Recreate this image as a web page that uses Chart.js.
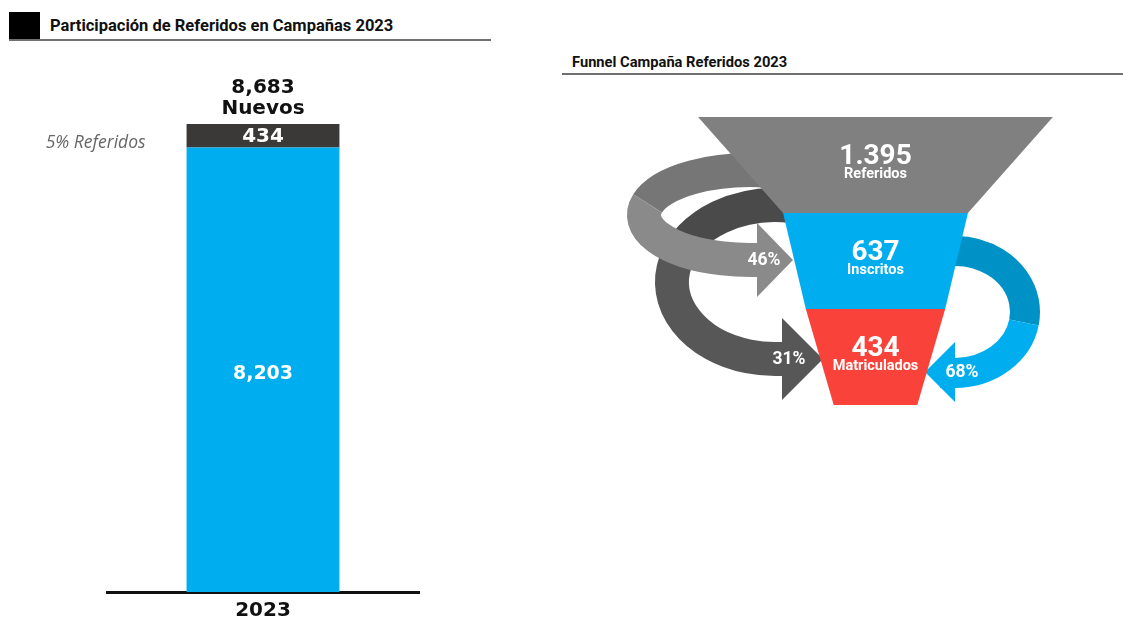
<!DOCTYPE html>
<html>
<head>
<meta charset="utf-8">
<script src="https://cdn.jsdelivr.net/npm/chart.js@4.4.1/dist/chart.umd.min.js"></script>
<style>
    body { margin: 0; background: #fff; width: 1123px; height: 617px; overflow: hidden; position: relative; font-family: Roboto, sans-serif; }
    .title { position: absolute; font-weight: 700; color: #111; white-space: nowrap; }
    #sq { position: absolute; left: 9px; top: 12px; width: 31px; height: 28px; background: #000; }
    #line1 { position: absolute; left: 9px; top: 39px; width: 482px; height: 2px; background: #707070; }
    #line2 { position: absolute; left: 562px; top: 73px; width: 561px; height: 2px; background: #707070; }
    #t1 { left: 50px; top: 16px; font-size: 16.5px; }
    #t2 { left: 572px; top: 53px; font-size: 14.7px; }
    #barChart { position: absolute; left: 0; top: 0; }
    #funnelChart { position: absolute; left: 520px; top: 0; }
</style>
</head>
<body>
<div id="sq"></div>
<div class="title" id="t1">Participación de Referidos en Campañas 2023</div>
<div id="line1"></div>
<div class="title" id="t2">Funnel Campaña Referidos 2023</div>
<div id="line2"></div>

<canvas id="barChart" width="520" height="630"></canvas>
<canvas id="funnelChart" width="603" height="617"></canvas>

<script>
// left chart data
const years = ['2023']
const nuevosSinReferidos = [8203]
const referidos = [434]
const totalNuevos = [8683]

// funnel data
const stages = ['Referidos', 'Inscritos', 'Matriculados']
const stageValues = [1395, 637, 434]

const colors = {
    blue: '#00aeef',
    blueDark: '#0091c6',
    dark: '#3b3937',
    gray: '#808080',
    red: '#f9423a',
}

const fmtComma = v => String(v).replace(/\B(?=(\d{3})+(?!\d))/g, ',')
const fmtDot = v => String(v).replace(/\B(?=(\d{3})+(?!\d))/g, '.')

// ---------- stacked bar ----------
const barLabels = {
    id: 'barLabels',
    afterDatasetsDraw(chart) {
        const ctx = chart.ctx
        const base = chart.getDatasetMeta(0).data[0]
        const top = chart.getDatasetMeta(1).data[0]
        ctx.save()
        ctx.textAlign = 'center'
        ctx.textBaseline = 'middle'

        ctx.fillStyle = '#fff'
        ctx.font = 'bold 19px "DejaVu Sans"'
        ctx.fillText(fmtComma(nuevosSinReferidos[0]), base.x, (base.y + base.base) / 2 + 4)
        ctx.font = 'bold 20px "DejaVu Sans"'
        ctx.fillText(fmtComma(referidos[0]), top.x, (top.y + top.base) / 2 + 1)

        ctx.fillStyle = '#111'
        ctx.fillText(fmtComma(totalNuevos[0]), top.x, top.y - 36)
        ctx.fillText('Nuevos', top.x, top.y - 15)

        // share of referidos
        const share = Math.round(referidos[0] / totalNuevos[0] * 100)
        ctx.fillStyle = '#666'
        ctx.font = 'italic 17.5px "Open Sans"'
        ctx.textAlign = 'right'
        ctx.fillText(share + '% Referidos', top.x - top.width / 2 - 41, (top.y + top.base) / 2 + 7)
        ctx.restore()
    },
}

new Chart(document.getElementById('barChart'), {
    type: 'bar',
    data: {
        labels: years,
        datasets: [
            { label: 'Nuevos', data: nuevosSinReferidos, backgroundColor: colors.blue, barPercentage: 0.49, categoryPercentage: 1 },
            { label: 'Referidos', data: referidos, backgroundColor: colors.dark, barPercentage: 0.49, categoryPercentage: 1 },
        ],
    },
    options: {
        responsive: false,
        animation: false,
        layout: { padding: { left: 107, right: 101, top: 124, bottom: 0 } },
        plugins: { legend: { display: false }, tooltip: { enabled: false } },
        scales: {
            x: {
                stacked: true,
                grid: { display: false, drawTicks: false },
                border: { color: '#111', width: 3 },
                ticks: { color: '#111', padding: 7, font: { family: 'DejaVu Sans', size: 20, weight: 'bold' } },
            },
            y: { stacked: true, display: false, min: 0, max: nuevosSinReferidos[0] + referidos[0] },
        },
    },
    plugins: [barLabels],
})

// ---------- funnel ----------
function ribbon(ctx, e, parts, width, head) {
    ctx.lineWidth = width
    ctx.lineCap = 'butt'
    parts.forEach(p => {
        ctx.strokeStyle = p.color
        ctx.beginPath()
        ctx.ellipse(e.cx, e.cy, e.rx, e.ry, 0, p.from * Math.PI / 180, p.to * Math.PI / 180, e.ccw)
        if (p.last) ctx.lineTo(head.base, head.y)
        ctx.stroke()
    })
    ctx.fillStyle = parts[parts.length - 1].color
    ctx.beginPath()
    ctx.moveTo(head.base, head.y - head.h)
    ctx.lineTo(head.tip, head.y)
    ctx.lineTo(head.base, head.y + head.h)
    ctx.closePath()
    ctx.fill()
}

const arrowHeads = [
    { from: 0, to: 1, base: 757, tip: 793, y: 260, h: 37 },
    { from: 0, to: 2, base: 782, tip: 823, y: 359, h: 41 },
    { from: 1, to: 2, base: 955, tip: 925, y: 372, h: 30 },
]

const funnelPlugin = {
    id: 'funnel',
    beforeDatasetsDraw(chart) {
        const ctx = chart.ctx
        ctx.save()
        ctx.translate(-520, 0)
        // dark arrow (31%)
        ribbon(ctx, { cx: 775, cy: 282, rx: 103, ry: 77, ccw: true },
            [{ color: '#4a4a4a', from: -80, to: -165 }, { color: '#575757', from: -165, to: 90, last: true }],
            34, arrowHeads[1])
        // gray arrow (46%)
        ribbon(ctx, { cx: 750, cy: 215, rx: 106, ry: 45, ccw: true },
            [{ color: '#767676', from: -80, to: -165 }, { color: '#8a8a8a', from: -165, to: 90, last: true }],
            34, arrowHeads[0])
        // blue arrow (68%)
        ribbon(ctx, { cx: 955, cy: 312, rx: 70, ry: 61, ccw: false },
            [{ color: colors.blueDark, from: -100, to: 10 }, { color: colors.blue, from: 10, to: 90, last: true }],
            30, arrowHeads[2])
        ctx.restore()
    },
    afterDatasetsDraw(chart) {
        const ctx = chart.ctx
        const bars = chart.getDatasetMeta(0).data
        const fill = [colors.gray, colors.blue, colors.red]
        const half = b => Math.abs(b.x - b.base) / 2 + 21
        const cx = chart.scales.x.getPixelForValue(0)
        ctx.save()
        bars.forEach((b, i) => {
            const t = b.y - b.height / 2
            const bt = b.y + b.height / 2
            const w1 = half(b)
            const w2 = i < bars.length - 1 ? half(bars[i + 1]) : w1 * 0.6
            ctx.fillStyle = fill[i]
            ctx.beginPath()
            ctx.moveTo(cx - w1, t)
            ctx.lineTo(cx + w1, t)
            ctx.lineTo(cx + w2, bt)
            ctx.lineTo(cx - w2, bt)
            ctx.closePath()
            ctx.fill()

            ctx.fillStyle = '#fff'
            ctx.textAlign = 'center'
            ctx.textBaseline = 'middle'
            ctx.font = 'bold 28px Roboto'
            ctx.fillText(fmtDot(stageValues[i]), cx, t + 40)
            ctx.font = 'bold 14.5px Roboto'
            ctx.fillText(stages[i], cx, t + 57)
        })

        // conversion labels
        ctx.translate(-520, 0)
        ctx.font = 'bold 17.5px Roboto'
        arrowHeads.forEach(a => {
            const pct = Math.round(stageValues[a.to] / stageValues[a.from] * 100)
            ctx.fillText(pct + '%', a.base + 7, a.y + 1)
        })
        ctx.restore()
    },
}

new Chart(document.getElementById('funnelChart'), {
    type: 'bar',
    data: {
        labels: stages,
        datasets: [{
            data: stageValues.map(v => [-v / 2, v / 2]),
            backgroundColor: 'rgba(0,0,0,0)',
            barPercentage: 1,
            categoryPercentage: 1,
        }],
    },
    options: {
        indexAxis: 'y',
        responsive: false,
        animation: false,
        layout: { padding: { left: 120, right: 12, top: 117, bottom: 212 } },
        plugins: { legend: { display: false }, tooltip: { enabled: false } },
        scales: {
            x: { display: false, min: -1050, max: 1050 },
            y: { display: false },
        },
    },
    plugins: [funnelPlugin],
})
</script>
</body>
</html>
